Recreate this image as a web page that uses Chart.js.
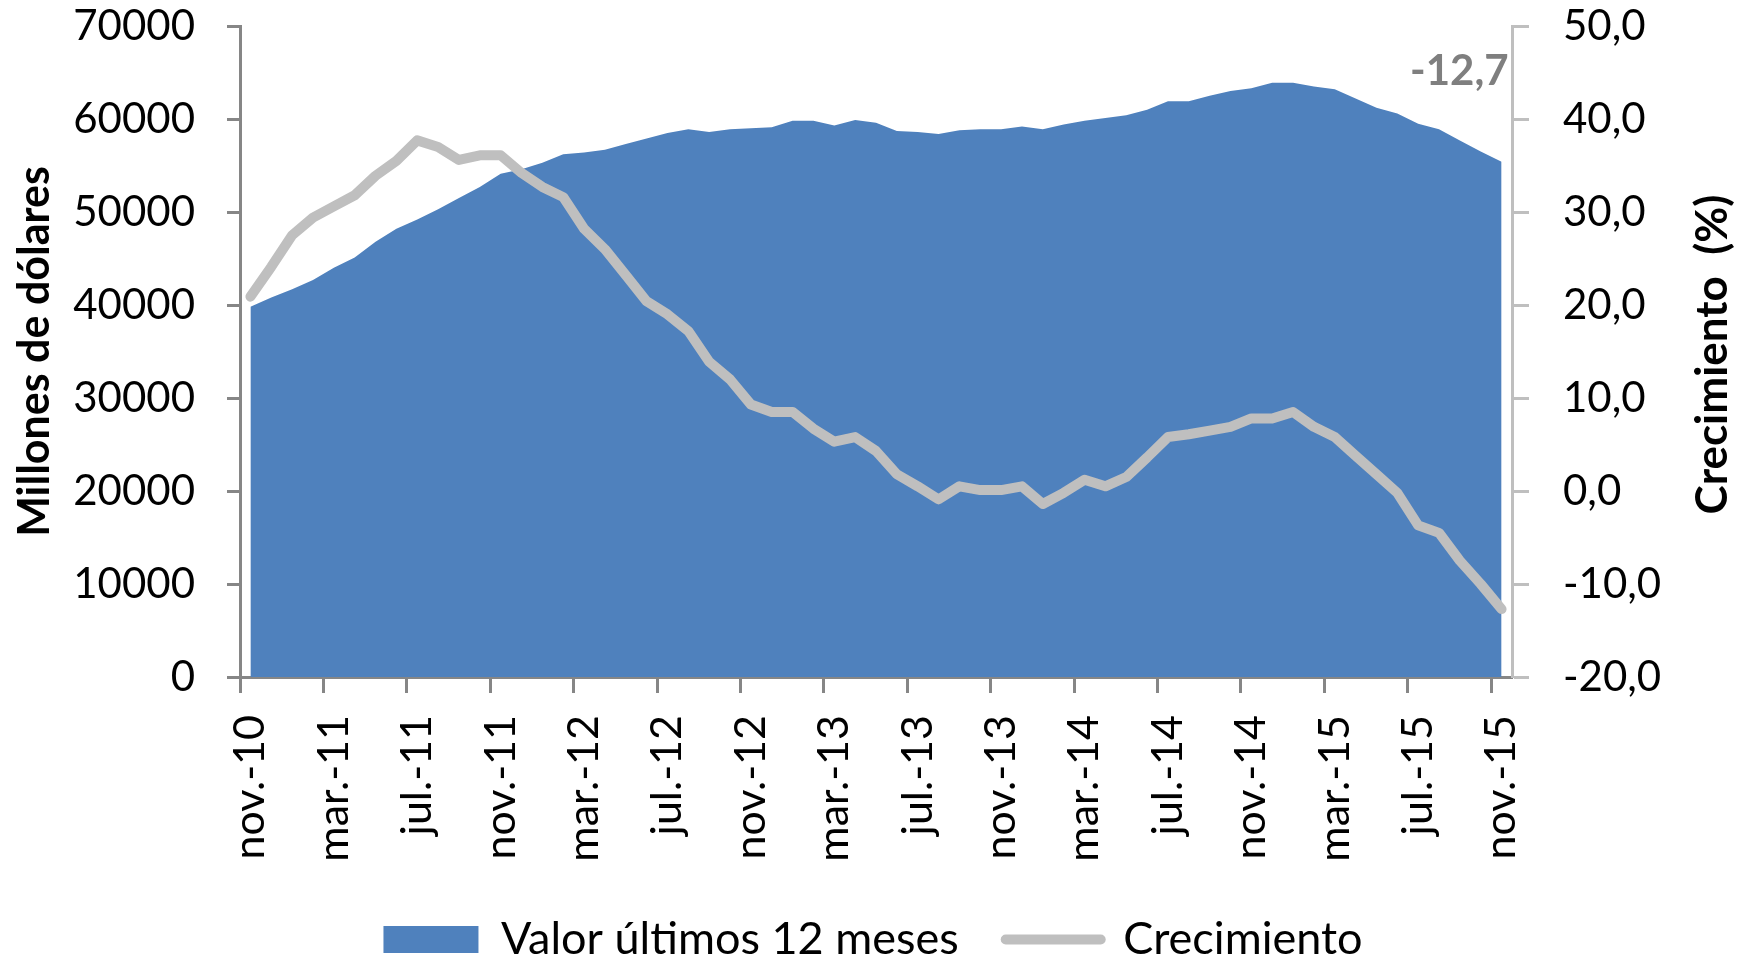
<!DOCTYPE html>
<html>
<head>
<meta charset="utf-8">
<script src="https://cdn.jsdelivr.net/npm/chart.js@4.4.0/dist/chart.umd.min.js"></script>
<style>
    body { margin: 0; background: #fff; }
    canvas { display: block; }
</style>
</head>
<body>
<canvas id="exportChart" width="1746" height="958"></canvas>
<script>
// meses nov.-10 a nov.-15
const months = [
    'nov.-10', 'dic.-10',
    'ene.-11', 'feb.-11', 'mar.-11', 'abr.-11', 'may.-11', 'jun.-11', 'jul.-11', 'ago.-11', 'sept.-11', 'oct.-11', 'nov.-11', 'dic.-11',
    'ene.-12', 'feb.-12', 'mar.-12', 'abr.-12', 'may.-12', 'jun.-12', 'jul.-12', 'ago.-12', 'sept.-12', 'oct.-12', 'nov.-12', 'dic.-12',
    'ene.-13', 'feb.-13', 'mar.-13', 'abr.-13', 'may.-13', 'jun.-13', 'jul.-13', 'ago.-13', 'sept.-13', 'oct.-13', 'nov.-13', 'dic.-13',
    'ene.-14', 'feb.-14', 'mar.-14', 'abr.-14', 'may.-14', 'jun.-14', 'jul.-14', 'ago.-14', 'sept.-14', 'oct.-14', 'nov.-14', 'dic.-14',
    'ene.-15', 'feb.-15', 'mar.-15', 'abr.-15', 'may.-15', 'jun.-15', 'jul.-15', 'ago.-15', 'sept.-15', 'oct.-15', 'nov.-15'
];

// millones de dolares, ultimos 12 meses
const valor12m = [
    39800, 40800, 41700, 42700, 44000, 45100, 46800, 48200, 49200, 50300,
    51500, 52700, 54100, 54600, 55300, 56200, 56400, 56700, 57300, 57900,
    58500, 58900, 58600, 58900, 59000, 59100, 59800, 59800, 59300, 59900,
    59600, 58700, 58600, 58400, 58800, 58900, 58900, 59200, 58900, 59400,
    59800, 60100, 60400, 61000, 61900, 61900, 62500, 63000, 63300, 63900,
    63900, 63500, 63200, 62200, 61200, 60600, 59500, 58900, 57700, 56500,
    55400
];

// crecimiento (%)
const crecimiento = [
    20.9, 24.1, 27.5, 29.4, 30.6, 31.8, 33.9, 35.5, 37.7, 37.0,
    35.6, 36.1, 36.1, 34.2, 32.7, 31.6, 28.2, 26.0, 23.2, 20.4,
    19.0, 17.2, 13.9, 12.0, 9.3, 8.5, 8.5, 6.7, 5.3, 5.8,
    4.3, 1.8, 0.5, -0.9, 0.5, 0.1, 0.1, 0.5, -1.4, -0.2,
    1.2, 0.5, 1.5, 3.6, 5.8, 6.1, 6.5, 6.9, 7.8, 7.8,
    8.5, 6.9, 5.8, 3.8, 1.8, -0.2, -3.7, -4.5, -7.5, -10.0,
    -12.7
];

const leftTicks = { min: 0, max: 70000, step: 10000 };
const rightTicks = { min: -20, max: 50, step: 10 };

const blue = '#4f81bd';
const gray = '#bfbfbf';
const axisGray = '#868686';

function fmtComma(v) {
    return Number(v).toFixed(1).replace('.', ',');
}

Chart.defaults.font.family = 'Lato';
Chart.defaults.color = '#000';

// titulo del eje derecho, leido de abajo hacia arriba
const rightTitle = {
    id: 'rightTitle',
    afterDraw(chart) {
        const { ctx, chartArea } = chart;
        const scale = chart.scales.y1;
        ctx.save();
        ctx.translate(scale.right - 33, (chartArea.top + chartArea.bottom) / 2 + 3);
        ctx.rotate(-Math.PI / 2);
        ctx.font = 'bold 44px Lato';
        ctx.fillStyle = '#000';
        ctx.textAlign = 'center';
        ctx.textBaseline = 'middle';
        ctx.fillText('Crecimiento  (%)', 0, 0);
        ctx.restore();
    }
};

// etiqueta del ultimo valor de crecimiento
const lastLabel = {
    id: 'lastLabel',
    afterDraw(chart) {
        const { ctx, chartArea } = chart;
        const meta = chart.getDatasetMeta(1);
        const last = meta.data[meta.data.length - 1];
        ctx.save();
        ctx.font = 'bold 42px Lato';
        ctx.fillStyle = '#7f7f7f';
        ctx.textAlign = 'right';
        ctx.textBaseline = 'middle';
        ctx.fillText(fmtComma(crecimiento[crecimiento.length - 1]), last.x + 7, chartArea.top + 45);
        ctx.restore();
    }
};

// el padding de las etiquetas no debe empujar el area hacia abajo
function fixVertical(width) {
    return s => {
        s.width = width;
        s.paddingTop = 20;
        s.paddingBottom = 20;
    };
}

const ctx = document.getElementById('exportChart').getContext('2d');
new Chart(ctx, {
    type: 'line',
    data: {
        labels: months,
        datasets: [{
            label: 'Valor últimos 12 meses',
            data: valor12m,
            yAxisID: 'y',
            fill: 'origin',
            backgroundColor: blue,
            borderColor: blue,
            borderWidth: 0,
            pointRadius: 0,
            tension: 0,
            order: 2
        }, {
            label: 'Crecimiento',
            data: crecimiento,
            yAxisID: 'y1',
            fill: false,
            borderColor: gray,
            backgroundColor: gray,
            borderWidth: 10,
            borderCapStyle: 'round',
            borderJoinStyle: 'round',
            pointRadius: 0,
            tension: 0,
            order: 1
        }]
    },
    options: {
        responsive: false,
        animation: false,
        layout: { padding: { top: 26, left: 0, right: 0, bottom: 0 } },
        plugins: {
            tooltip: { enabled: false },
            legend: {
                position: 'bottom',
                maxHeight: 88,
                labels: {
                    font: { size: 45 },
                    color: '#000',
                    padding: 47,
                    usePointStyle: true,
                    pointStyleWidth: 95,
                    boxHeight: 27,
                    generateLabels: () => [
                        { text: 'Valor últimos 12 meses', fillStyle: blue, strokeStyle: blue, lineWidth: 0, pointStyle: 'rect', datasetIndex: 0 },
                        { text: 'Crecimiento', fillStyle: gray, strokeStyle: gray, lineWidth: 10, lineCap: 'round', pointStyle: 'line', datasetIndex: 1 }
                    ]
                }
            }
        },
        scales: {
            x: {
                z: 1,
                offset: true,
                grid: {
                    offset: true,
                    drawOnChartArea: false,
                    drawTicks: true,
                    tickLength: 16,
                    tickWidth: 3,
                    tickColor: c => (c.index % 4 === 0 ? axisGray : 'rgba(0,0,0,0)')
                },
                border: { display: true, color: axisGray, width: 3 },
                ticks: {
                    autoSkip: false,
                    minRotation: 90,
                    maxRotation: 90,
                    padding: 22,
                    font: { size: 43 },
                    callback: function (val, i) { return i % 4 === 0 ? months[i] : ''; }
                },
                afterFit: s => { s.height = 193; }
            },
            y: {
                z: 1,
                position: 'left',
                min: leftTicks.min,
                max: leftTicks.max,
                ticks: {
                    stepSize: leftTicks.step,
                    padding: 32,
                    font: { size: 42 },
                    callback: v => String(v)
                },
                grid: {
                    drawOnChartArea: false,
                    tickLength: 13,
                    tickWidth: 3,
                    tickColor: axisGray
                },
                border: { display: true, color: axisGray, width: 3 },
                title: {
                    display: true,
                    text: 'Millones de dólares',
                    font: { size: 43, weight: 'bold' },
                    padding: { top: 9, bottom: 9 }
                },
                afterFit: fixVertical(240)
            },
            y1: {
                z: 1,
                position: 'right',
                min: rightTicks.min,
                max: rightTicks.max,
                ticks: {
                    stepSize: rightTicks.step,
                    padding: 34,
                    font: { size: 42 },
                    callback: v => fmtComma(v)
                },
                grid: {
                    drawOnChartArea: false,
                    tickLength: 17,
                    tickWidth: 3,
                    tickColor: gray
                },
                border: { display: true, color: gray, width: 3 },
                afterFit: fixVertical(234)
            }
        }
    },
    plugins: [rightTitle, lastLabel]
});
</script>
</body>
</html>
